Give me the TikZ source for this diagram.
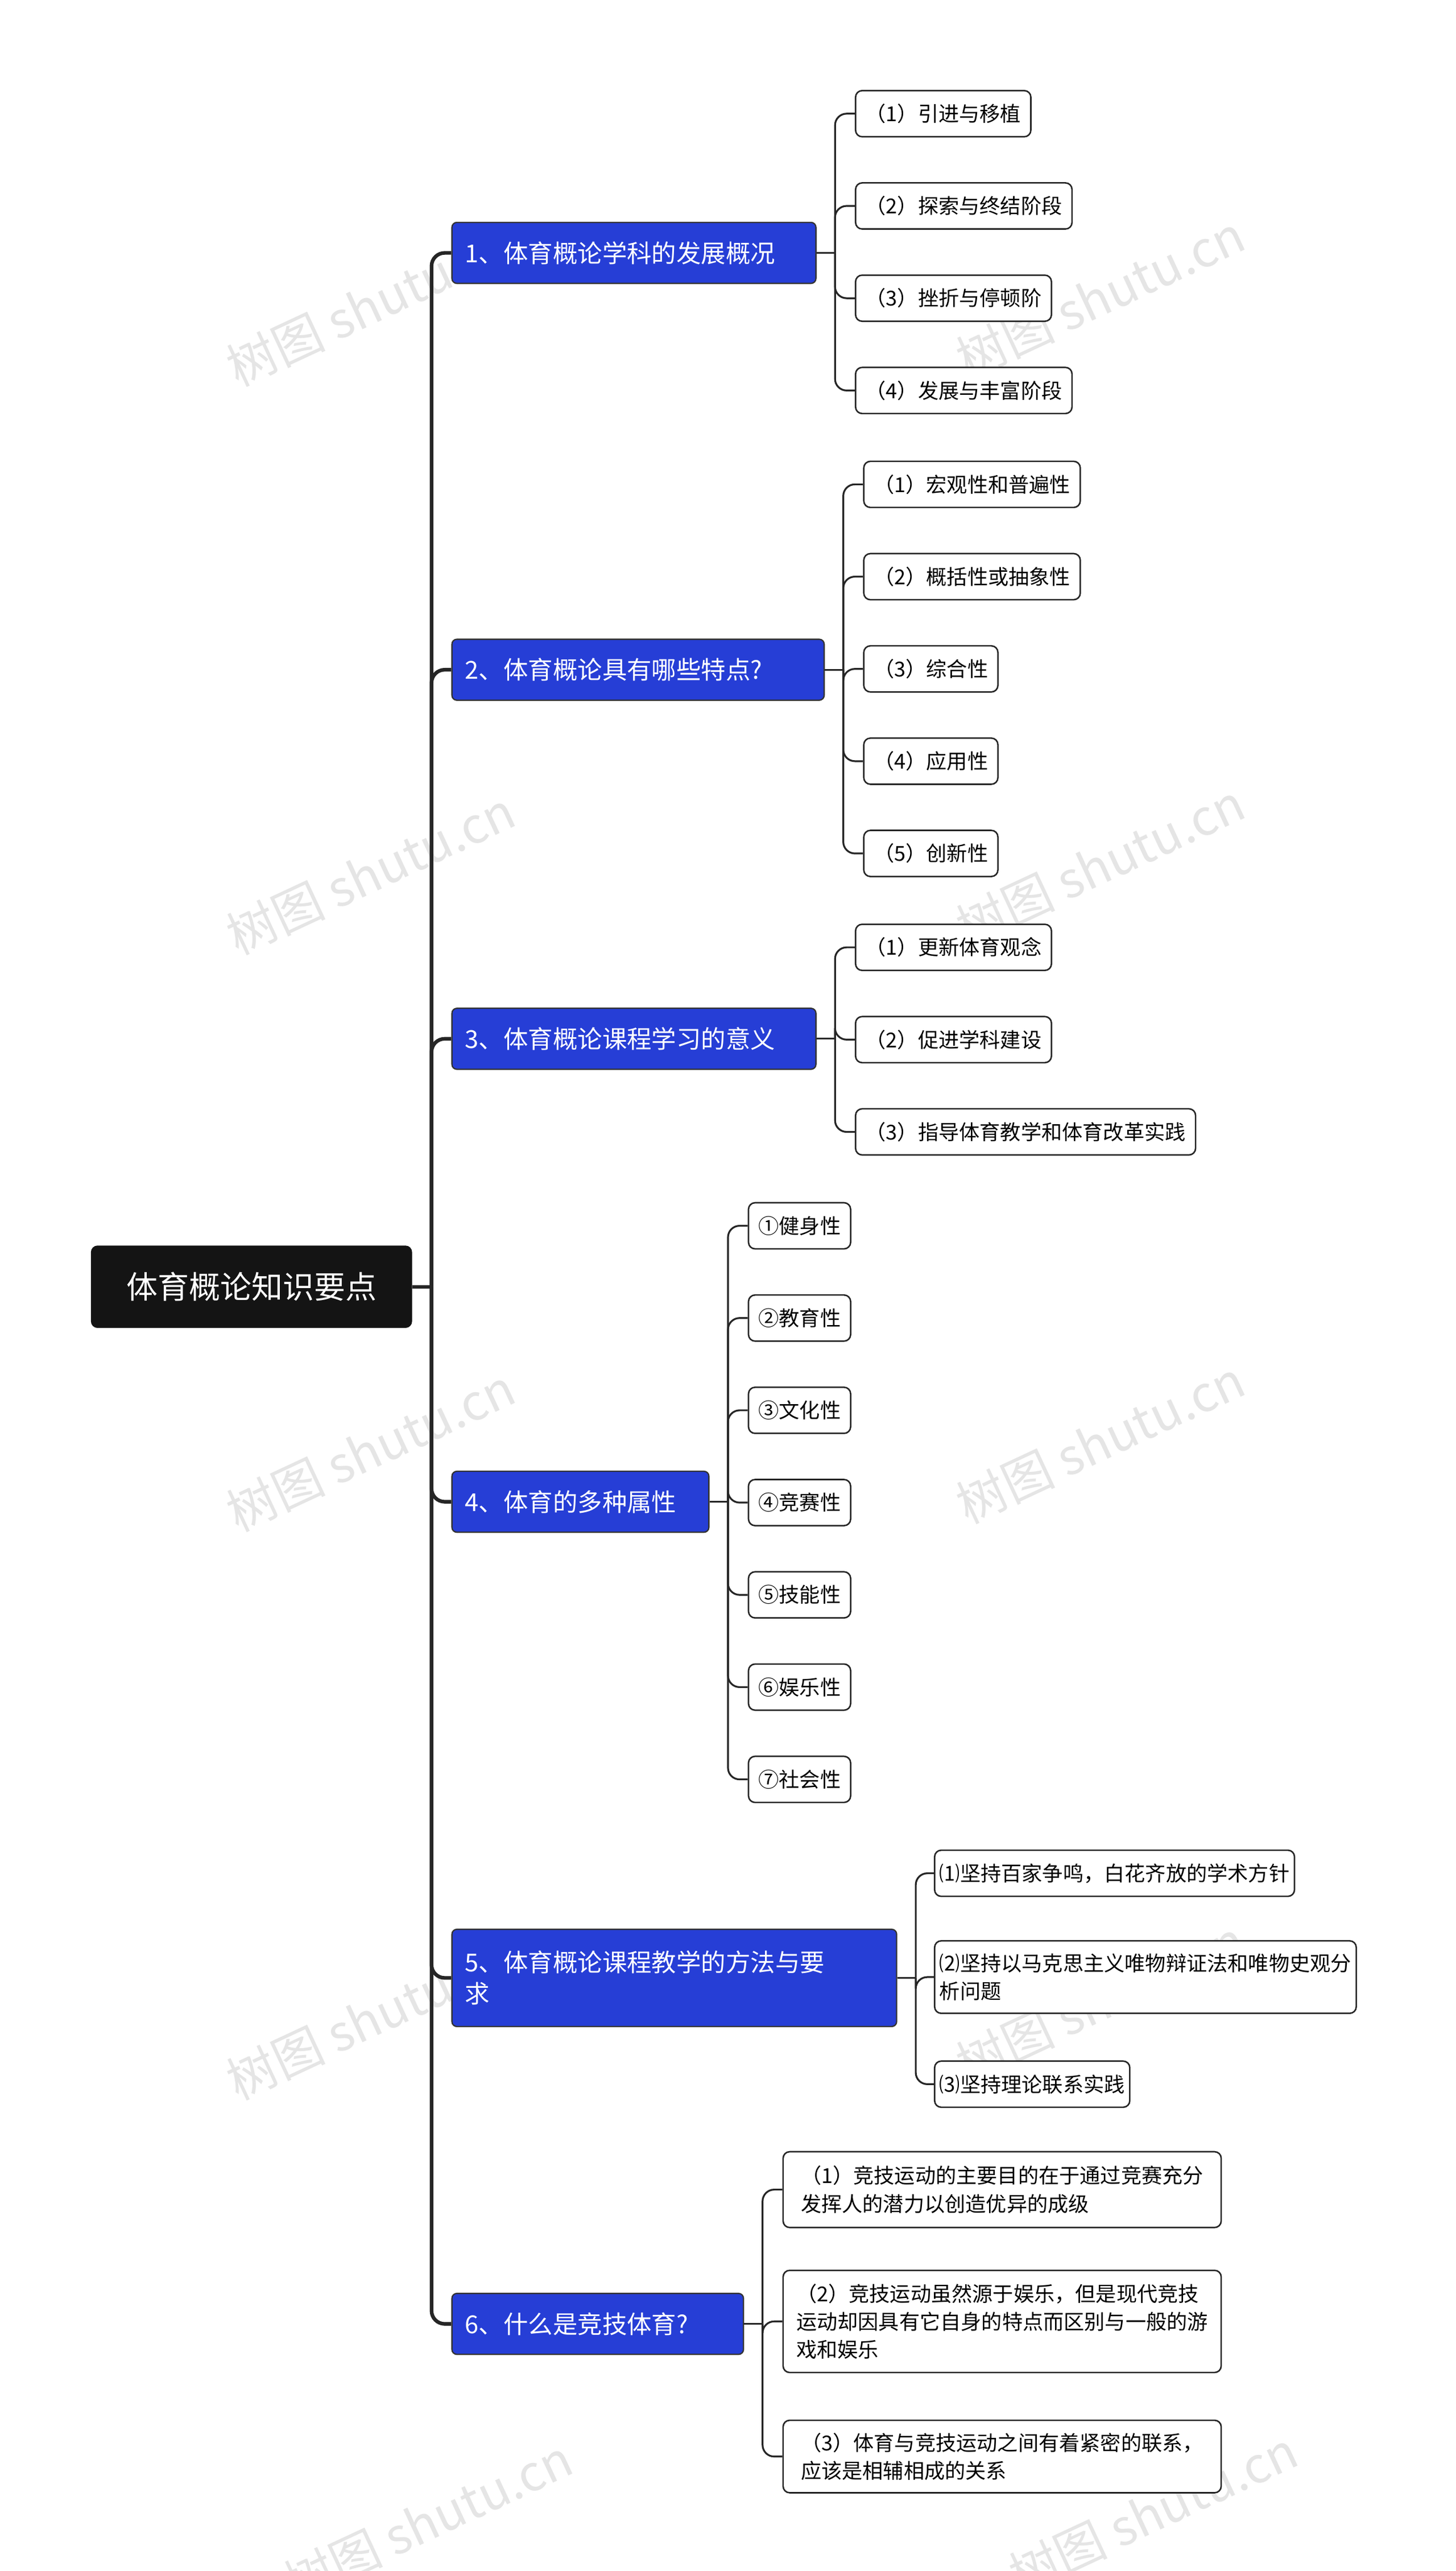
\documentclass[tikz,border=0pt]{standalone}
\usepackage{fontspec}
\setmainfont{Noto Sans CJK SC}
\begin{document}
\begin{tikzpicture}[x=1pt,y=-1pt,
 wm/.style={text=gray!20,font=\fontsize{30}{30}\selectfont,rotate=25},
 root/.style={fill=black!92,text=white,rounded corners=4pt,font=\fontsize{19}{22}\selectfont,minimum width=195pt,minimum height=50pt,anchor=west},
 lone/.style={fill={rgb,255:red,38;green,62;blue,214},draw=black!80,line width=0.8pt,text=white,rounded corners=3pt,font=\fontsize{15}{19}\selectfont,inner xsep=8pt,minimum height=37pt,anchor=west,align=left},
 leaf/.style={draw=black!85,line width=0.9pt,fill=white,rounded corners=4pt,font=\fontsize{12.5}{17}\selectfont,inner xsep=6pt,minimum height=28pt,anchor=west,align=left},
 spine/.style={draw=black!85,line width=2.2pt,rounded corners=8pt},
 con/.style={draw=black!85,line width=1.1pt,rounded corners=7pt}]
\useasboundingbox (0,0) rectangle (884,1560.5);
\foreach \x/\y in {225/185,668/180,225/530,668/525,225/880,668/875,225/1225,668/1215,260/1530,700/1525}
  \node[wm] at (\x,\y) {树图 shutu.cn};
\node[root] (r) at (55,781) {体育概论知识要点};
\node[lone,text width=205pt] (a) at (274,153.5) {1、体育概论学科的发展概况};
\node[lone,text width=210pt] (b) at (274,406.5) {2、体育概论具有哪些特点?};
\node[lone,text width=205pt] (c) at (274,630.5) {3、体育概论课程学习的意义};
\node[lone,text width=140pt] (d) at (274,911.5) {4、体育的多种属性};
\node[lone,text width=254pt,minimum height=59pt] (e) at (274,1200.5) {5、体育概论课程教学的方法与要\\求};
\node[lone,text width=161pt] (f) at (274,1410.5) {6、什么是竞技体育?};
\draw[draw=black!85,line width=2.2pt] (r.east) -- (262,781);
\foreach \n in {a,b,c,d,e,f} \draw[spine] (262,781) |- (\n.west);
% group 1
\node[leaf] (a1) at (519,69) {（1）引进与移植};
\node[leaf] (a2) at (519,125) {（2）探索与终结阶段};
\node[leaf] (a3) at (519,181) {（3）挫折与停顿阶};
\node[leaf] (a4) at (519,237) {（4）发展与丰富阶段};
\draw[con] (a.east) -- (507,153.5);
\foreach \n in {a1,a2,a3,a4} \draw[con] (507,153.5) |- (\n.west);
% group 2
\node[leaf] (b1) at (524,294) {（1）宏观性和普遍性};
\node[leaf] (b2) at (524,350) {（2）概括性或抽象性};
\node[leaf] (b3) at (524,406) {（3）综合性};
\node[leaf] (b4) at (524,462) {（4）应用性};
\node[leaf] (b5) at (524,518) {（5）创新性};
\draw[con] (b.east) -- (512,406.5);
\foreach \n in {b1,b2,b3,b4,b5} \draw[con] (512,406.5) |- (\n.west);
% group 3
\node[leaf] (c1) at (519,575) {（1）更新体育观念};
\node[leaf] (c2) at (519,631) {（2）促进学科建设};
\node[leaf] (c3) at (519,687) {（3）指导体育教学和体育改革实践};
\draw[con] (c.east) -- (507,630.5);
\foreach \n in {c1,c2,c3} \draw[con] (507,630.5) |- (\n.west);
% group 4
\node[leaf] (d1) at (454,744) {①健身性};
\node[leaf] (d2) at (454,800) {②教育性};
\node[leaf] (d3) at (454,856) {③文化性};
\node[leaf] (d4) at (454,912) {④竞赛性};
\node[leaf] (d5) at (454,968) {⑤技能性};
\node[leaf] (d6) at (454,1024) {⑥娱乐性};
\node[leaf] (d7) at (454,1080) {⑦社会性};
\draw[con] (d.east) -- (442,911.5);
\foreach \n in {d1,d2,d3,d4,d5,d6,d7} \draw[con] (442,911.5) |- (\n.west);
% group 5
\node[leaf,inner xsep=3pt] (e1) at (567,1137) {⑴坚持百家争鸣，白花齐放的学术方针};
\node[leaf,inner xsep=3pt,minimum height=44pt] (e2) at (567,1200) {⑵坚持以马克思主义唯物辩证法和唯物史观分\\析问题};
\node[leaf,inner xsep=3pt] (e3) at (567,1265) {⑶坚持理论联系实践};
\draw[con] (e.east) -- (556,1200.5);
\foreach \n in {e1,e2,e3} \draw[con] (556,1200.5) |- (\n.west);
% group 6
\node[leaf,minimum height=46pt,minimum width=266pt] (f1) at (475,1329) {（1）竞技运动的主要目的在于通过竞赛充分\\发挥人的潜力以创造优异的成级};
\node[leaf,minimum height=62pt,minimum width=266pt] (f2) at (475,1409) {（2）竞技运动虽然源于娱乐，但是现代竞技\\运动却因具有它自身的特点而区别与一般的游\\戏和娱乐};
\node[leaf,minimum height=44pt,minimum width=266pt] (f3) at (475,1491) {（3）体育与竞技运动之间有着紧密的联系，\\应该是相辅相成的关系};
\draw[con] (f.east) -- (463,1410.5);
\foreach \n in {f1,f2,f3} \draw[con] (463,1410.5) |- (\n.west);
\end{tikzpicture}
\end{document}
